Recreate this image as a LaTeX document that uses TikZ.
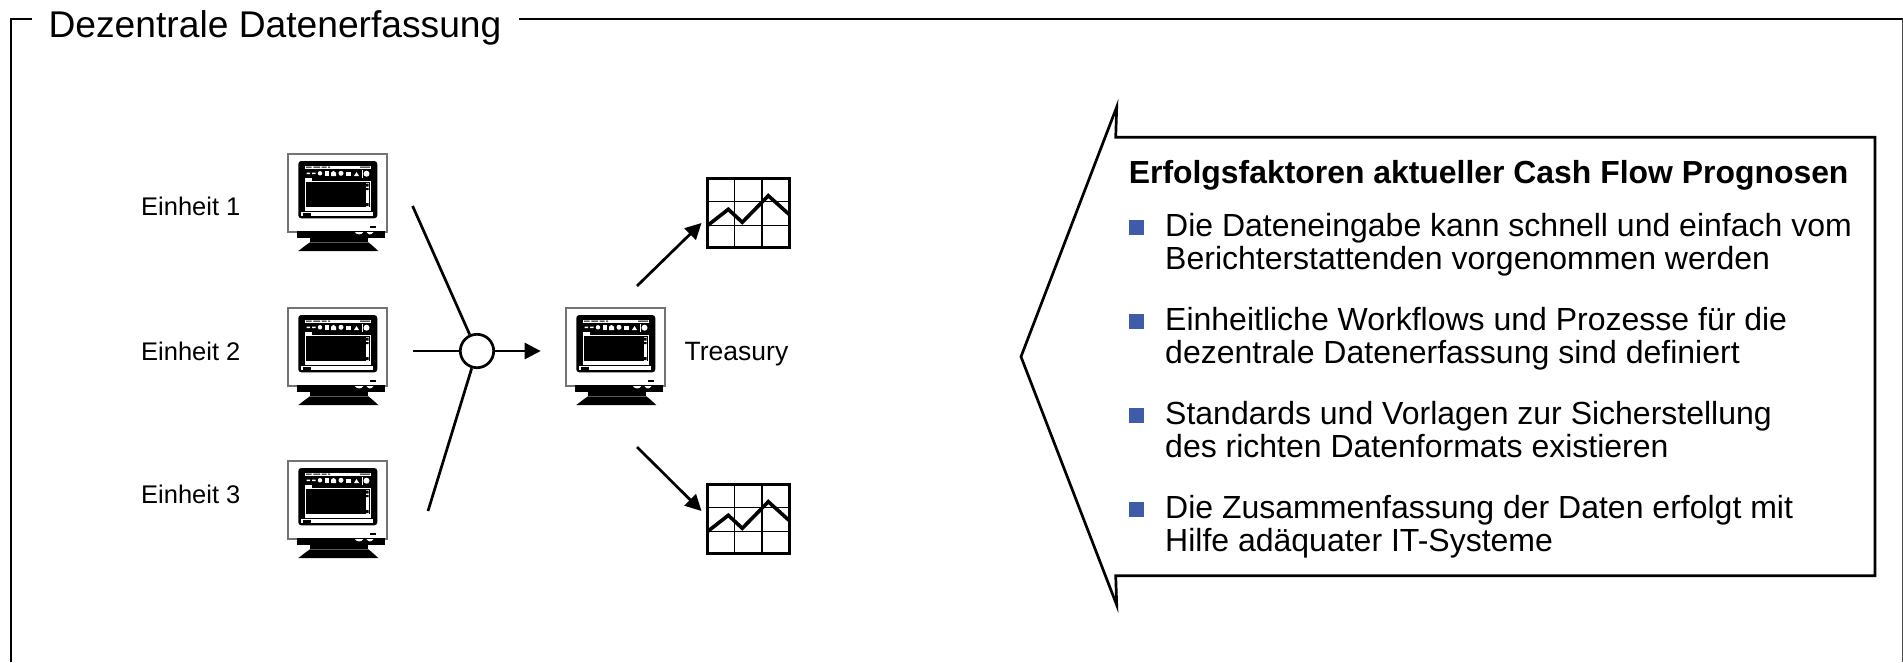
\documentclass[tikz,border=0pt]{standalone}
\usepackage{fontspec}
\setmainfont{Liberation Sans}
\usetikzlibrary{arrows.meta}
\definecolor{bulletblue}{HTML}{3F5CA8}
\tikzset{
  x=1pt,y=-1pt,
  heavy/.style={line width=2.7pt,black},
  conn/.style={heavy},
  arrowconn/.style={heavy,-{Triangle[length=16pt,width=16pt]},shorten >=0pt},
  frametitle/.style={anchor=base west,inner sep=0pt,font=\fontsize{37.2}{37.2}\selectfont},
  unitlabel/.style={anchor=base west,inner sep=0pt,font=\fontsize{25.5}{25.5}\selectfont},
  treasurylabel/.style={anchor=base west,inner sep=0pt,font=\fontsize{26.5}{26.5}\selectfont},
  headline/.style={anchor=base west,inner sep=0pt,font=\fontsize{31.9}{31.9}\selectfont\bfseries},
  bodyline/.style={anchor=base west,inner sep=0pt,font=\fontsize{32}{32}\selectfont},
  bulletbox/.style={fill=bulletblue,draw=none,minimum size=15pt,inner sep=0pt,anchor=north west},
  hubcircle/.style={circle,heavy,draw,fill=white,minimum size=33.4pt,inner sep=0pt},
  monitor/.pic={
    \draw[line width=1.5pt,draw=black!55,fill=white] (0,0) rectangle (99,78);
    % screen
    \fill[black,rounded corners=3pt] (10.3,7) rectangle (89.3,64.3);
    \fill[white] (17.3,11.7) rectangle (83,56.7);
    % menu bar
    \fill[black] (18,12.5) rectangle (23.5,13.7) (25.3,12.5) rectangle (32,13.7) (33.5,12.5) rectangle (38.5,13.7) (40,12.5) rectangle (42,13.7) (72,12.5) rectangle (82,13.7);
    \fill[black] (17.3,14.8) rectangle (83,15.8);
    % toolbar
    \fill[black] (17.3,15.8) rectangle (83,23.5);
    \fill[white] (18.5,18.6) rectangle (22,20) (24,18.6) rectangle (27.5,20);
    \fill[white] (32,19.3) circle[radius=2.2];
    \fill[white] (37,16.8) rectangle (40.5,22);
    \fill[white] (43,22) -- (43,18.8) -- (45.5,16.8) -- (48,18.8) -- (48,22) -- cycle;
    \fill[white] (53,19.3) circle[radius=2.5];
    \fill[white] (58,18) rectangle (63,21.5);
    \fill[white] (66,22) -- (68.5,18) -- (71,22) -- cycle;
    \fill[white] (73.5,16) rectangle (74.2,23.5);
    \fill[white] (78.5,19.7) circle[radius=3];
    % address row
    \fill[white] (17.3,23.5) rectangle (23.5,27);
    \fill[black] (23.5,23.5) rectangle (83,27);
    % main window
    \fill[black] (18,28.3) rectangle (81.5,53.3);
    \fill[white] (77.5,29) rectangle (81,52.5);
    \fill[black] (78,29.5) rectangle (80.5,32.5) (78,34) rectangle (80.5,36) (78,49) rectangle (80.5,52);
    % status bar
    \fill[white] (13,57.7) rectangle (85.3,62.3);
    \fill[black] (14.6,58.5) rectangle (22.5,61.5);
    % power lamp
    \fill[black] (82,72) rectangle (88,73.7);
    % base
    \fill[black] (8.7,77) rectangle (97,84.3);
    \fill[white] (67,78.2) .. controls (69,81.2) and (73.3,81.2) .. (75.3,78.2) -- cycle;
    \fill[white] (78.7,78.2) .. controls (80.5,81.2) and (83.5,81.2) .. (85.3,78.2) -- cycle;
    \fill[black] (22,84.3) rectangle (80.3,88.3);
    \fill[black] (22,88.3) -- (80.3,88.3) .. controls (84,91) and (88,95) .. (90.3,97) -- (10.3,97) .. controls (13,95) and (18,91) .. (22,88.3) -- cycle;
  },
  chartpic/.pic={
    \draw[line width=1.5pt] (27.4,0) -- (27.4,69.4) (54.7,0) -- (54.7,69.4) (0,23.4) -- (81.7,23.4) (0,47.4) -- (81.7,47.4);
    \draw[line width=3pt,miter limit=10] (0,0) rectangle (81.7,69.4);
    \draw[line width=3.6pt,line join=miter] (0,47.4) -- (21,31) -- (35,44) -- (61,17.4) -- (81.7,36);
  }
}
\begin{document}
\begin{tikzpicture}
\useasboundingbox (0,0) rectangle (1903,662);
% frame
\node[frametitle] (title) at (48.4,37) {Dezentrale Datenerfassung};
\coordinate (fbl) at (11,662);
\coordinate (ftl) at (11,19);
\coordinate (ft1) at (32,19);
\coordinate (ft2) at (519,19);
\coordinate (ftr) at (1902.5,19);
\coordinate (fbr) at (1902.5,662);
\draw[heavy,line cap=butt,line join=miter] (fbl) -- (ftl) -- (ft1);
\draw[heavy] (ft2) -- (ftr);
\draw[line width=1pt,black!70] (ftr) -- (fbr);
% monitors
\pic (mone) at (288,154) {monitor};
\pic (mtwo) at (288,308) {monitor};
\pic (mthree) at (288,461) {monitor};
\pic (mtreasury) at (566,308) {monitor};
\node[unitlabel] (e1) at (141,215) {Einheit 1};
\node[unitlabel] (e2) at (141,360) {Einheit 2};
\node[unitlabel] (e3) at (141,503) {Einheit 3};
\node[treasurylabel] (tr) at (684.5,360) {Treasury};
% charts
\pic (cone) at (707.3,178.3) {chartpic};
\pic (ctwo) at (707.3,484.3) {chartpic};
% hub
\node[hubcircle] (hub) at (477,351) {};
\coordinate (a1) at (412.6,206);
\coordinate (a2) at (413,351);
\coordinate (a3) at (428,511);
\coordinate (b0) at (540.7,351);
\coordinate (c1s) at (637,286);
\coordinate (c1e) at (701.5,223);
\coordinate (c2s) at (637,447);
\coordinate (c2e) at (701.5,511);
\draw[conn] (a1) -- (hub);
\draw[conn] (a2) -- (hub);
\draw[conn] (a3) -- (hub);
\draw[arrowconn] (hub) -- (b0);
\draw[arrowconn] (c1s) -- (c1e);
\draw[arrowconn] (c2s) -- (c2e);
% callout
\draw[heavy,line join=miter,miter limit=20,fill=white] (1021,356.7) -- (1116.7,107) -- (1115.7,137.3) -- (1875,137.3) -- (1875,575.7) -- (1115.7,575.7) -- (1116.7,605) -- cycle;
\node[headline] (head) at (1128.6,183.3) {Erfolgsfaktoren aktueller Cash Flow Prognosen};
\node[bulletbox] (b1) at (1128.3,220) {};
\node[bulletbox] (b2) at (1128.3,313.5) {};
\node[bulletbox] (b3) at (1128.3,408) {};
\node[bulletbox] (b4) at (1128.3,502) {};
\node[bodyline] (l1a) at (1165,236) {Die Dateneingabe kann schnell und einfach vom};
\node[bodyline] (l1b) at (1165,269) {Berichterstattenden vorgenommen werden};
\node[bodyline] (l2a) at (1165,330.2) {Einheitliche Workflows und Prozesse für die};
\node[bodyline] (l2b) at (1165,363.2) {dezentrale Datenerfassung sind definiert};
\node[bodyline] (l3a) at (1165,424.5) {Standards und Vorlagen zur Sicherstellung};
\node[bodyline] (l3b) at (1165,457.5) {des richten Datenformats existieren};
\node[bodyline] (l4a) at (1165,518.7) {Die Zusammenfassung der Daten erfolgt mit};
\node[bodyline] (l4b) at (1165,551.7) {Hilfe adäquater IT-Systeme};
\end{tikzpicture}
\end{document}
